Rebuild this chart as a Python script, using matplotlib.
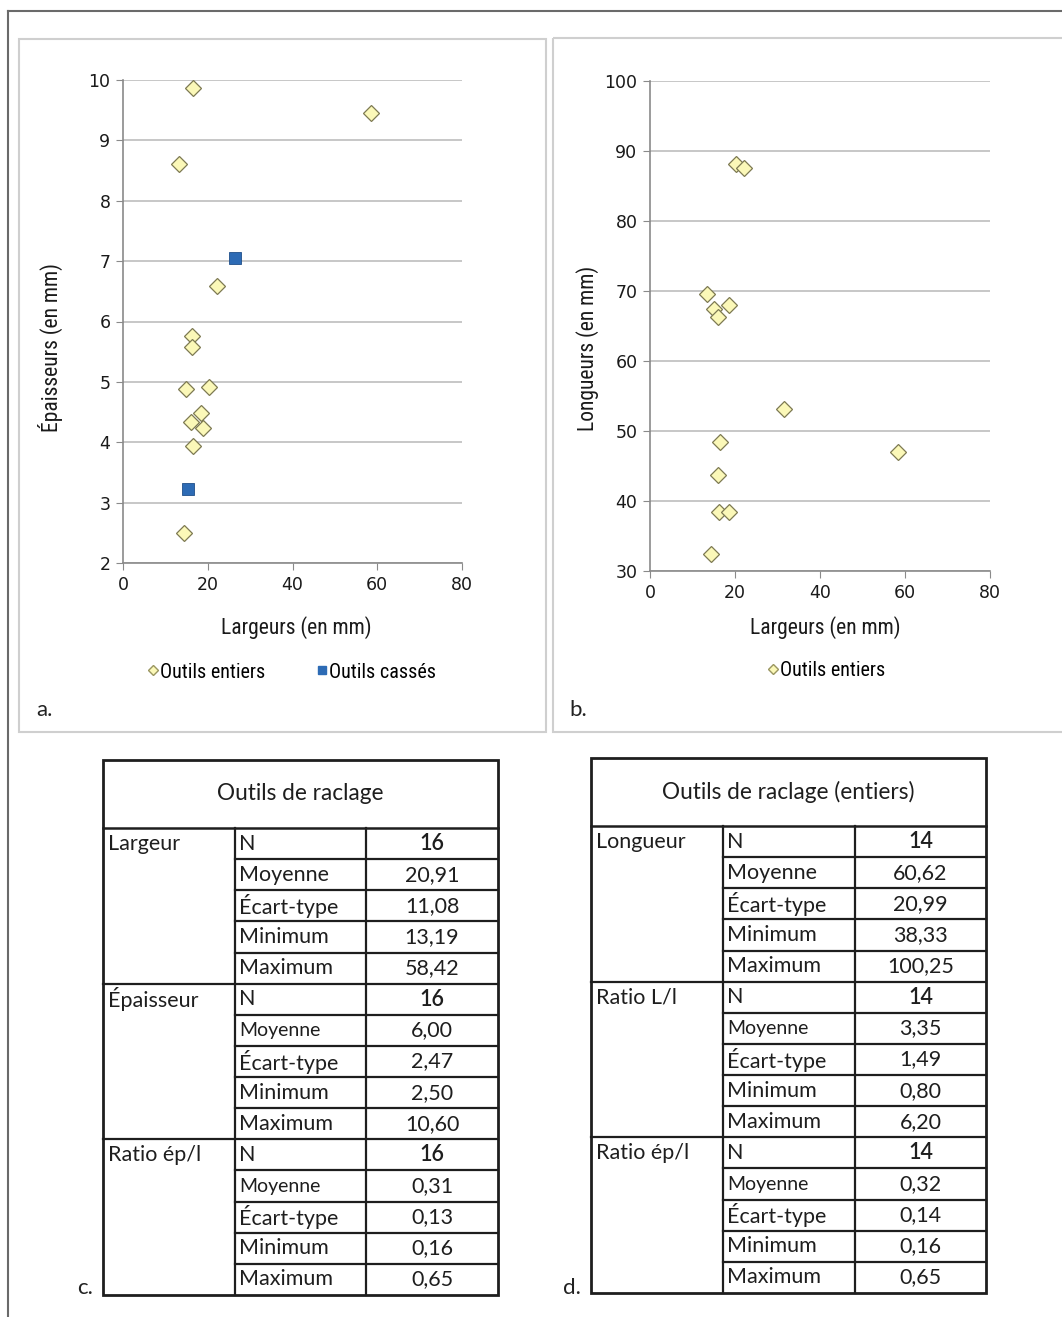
import matplotlib.pyplot as plt
from matplotlib import font_manager
from matplotlib.lines import Line2D
from matplotlib.patches import Rectangle

W, H = 1062, 1317

# --- data --------------------------------------------------------------
# a. épaisseur vs largeur
a_entiers_x = [16.5, 58.6, 13.3, 22.1, 16.2, 16.2, 14.8, 20.4, 18.4, 16.1, 18.8, 16.5, 14.4]
a_entiers_y = [9.86, 9.45, 8.61, 6.59, 5.76, 5.57, 4.89, 4.92, 4.48, 4.33, 4.24, 3.94, 2.49]
a_casses_x = [26.4, 15.3]
a_casses_y = [7.05, 3.22]

# b. longueur vs largeur (outils entiers)
b_entiers_x = [20.3, 22.2, 13.3, 15.0, 16.1, 18.6, 31.5, 16.4, 58.4, 16.0, 16.3, 18.5, 14.3]
b_entiers_y = [88.2, 87.6, 69.6, 67.5, 66.3, 68.0, 53.1, 48.5, 47.0, 43.7, 38.4, 38.4, 32.5]

a_xticks = [0, 20, 40, 60, 80]
a_yticks = [2, 3, 4, 5, 6, 7, 8, 9, 10]
b_xticks = [0, 20, 40, 60, 80]
b_yticks = [30, 40, 50, 60, 70, 80, 90, 100]

stat_names = ["N", "Moyenne", "Écart-type", "Minimum", "Maximum"]

c_title = "Outils de raclage"
c_groups = ["Largeur", "Épaisseur", "Ratio ép/l"]
c_values = [["16", "20,91", "11,08", "13,19", "58,42"],
            ["16", "6,00", "2,47", "2,50", "10,60"],
            ["16", "0,31", "0,13", "0,16", "0,65"]]

d_title = "Outils de raclage (entiers)"
d_groups = ["Longueur", "Ratio L/l", "Ratio ép/l"]
d_values = [["14", "60,62", "20,99", "38,33", "100,25"],
            ["14", "3,35", "1,49", "0,80", "6,20"],
            ["14", "0,32", "0,14", "0,16", "0,65"]]


def pick_font(candidates):
    names = {f.name for f in font_manager.fontManager.ttflist}
    for c in candidates:
        if c in names:
            return c
    return "DejaVu Sans"


narrow = pick_font(["Liberation Sans Narrow", "Roboto Condensed", "Open Sans Condensed", "Roboto"])
tfont = pick_font(["Lato", "Open Sans", "Roboto"])

fig = plt.figure(figsize=(W / 100, H / 100), dpi=100)

# background layer in pixel coordinates (frames, labels, tables)
bg = fig.add_axes([0, 0, 1, 1], zorder=0)
bg.set_xlim(0, W)
bg.set_ylim(H, 0)
bg.axis("off")


def add_px_axes(left, top, right, bottom):
    ax = fig.add_axes([left / W, 1 - bottom / H, (right - left) / W, (bottom - top) / H], zorder=2)
    ax.patch.set_alpha(0)
    return ax


# outer frame + panel boxes
bg.plot([8, W], [11, 11], color="#6a6a6a", lw=1.5)
bg.plot([8, 8], [11, H], color="#6a6a6a", lw=1.5)
bg.add_patch(Rectangle((19, 39), 527, 693, fill=False, ec="#cfcfcf", lw=1.5))
bg.add_patch(Rectangle((553, 38), 520, 694, fill=False, ec="#cfcfcf", lw=1.5))

diamond = dict(ls="none", marker="D", ms=8.5, mfc="#fbf8b8", mec="#7d7a52", mew=0.9)
square = dict(ls="none", marker="s", ms=9, mfc="#2d6bb5", mec="#1f4f8a", mew=0.6)


def style_axes(ax, xticks, yticks):
    ax.set_xlim(xticks[0], xticks[-1])
    ax.set_ylim(yticks[0], yticks[-1])
    ax.set_xticks(xticks)
    ax.set_yticks(yticks)
    ax.grid(axis="y", color="#bdbdbd", lw=1.2)
    ax.set_axisbelow(True)
    for s in ("top", "right"):
        ax.spines[s].set_visible(False)
    for s in ("left", "bottom"):
        ax.spines[s].set_color("#8a8a8a")
        ax.spines[s].set_linewidth(1.2)
    ax.tick_params(direction="out", length=5, color="#8a8a8a", labelsize=12.5,
                   labelcolor="#1a1a1a", pad=4)


# a.
ax_a = add_px_axes(123, 80, 462, 563)
ax_a.plot(a_entiers_x, a_entiers_y, label="Outils entiers", **diamond)
ax_a.plot(a_casses_x, a_casses_y, label="Outils cassés", **square)
style_axes(ax_a, a_xticks, a_yticks)

# b.
ax_b = add_px_axes(650, 81, 990, 571)
ax_b.plot(b_entiers_x, b_entiers_y, label="Outils entiers", **diamond)
style_axes(ax_b, b_xticks, b_yticks)

lab = dict(family=narrow, fontsize=15.5, color="#1a1a1a", ha="center", va="center")
bg.text(50, 347, "Épaisseurs (en mm)", rotation=90, **lab)
bg.text(296, 628, "Largeurs (en mm)", **lab)
bg.text(588, 348, "Longueurs (en mm)", rotation=90, **lab)
bg.text(825, 628, "Largeurs (en mm)", **lab)

leg_kw = dict(frameon=False, handlelength=0.5, handletextpad=0.1, columnspacing=2.6,
              prop=dict(family=narrow, size=14.5), loc="center")
ha_, la_ = ax_a.get_legend_handles_labels()
leg_a = fig.legend([Line2D([], [], ls="none", marker="D", ms=5, mfc="#fbf8b8", mec="#9a9660"),
                    Line2D([], [], ls="none", marker="s", ms=6, mfc="#2d6bb5", mec="#2d6bb5")],
                   la_, ncol=2, bbox_to_anchor=(292 / W, 1 - 672 / H), **leg_kw)
hb_, lb_ = ax_b.get_legend_handles_labels()
leg_b = fig.legend([Line2D([], [], ls="none", marker="D", ms=5, mfc="#fbf8b8", mec="#9a9660")],
                   lb_, ncol=1, bbox_to_anchor=(827 / W, 1 - 671 / H), **leg_kw)

panel = dict(family=tfont, fontsize=16, color="#222222", ha="left", va="center")
bg.text(36, 710, "a.", **panel)
bg.text(569, 710, "b.", **panel)
bg.text(77, 1288, "c.", **panel)
bg.text(563, 1288, "d.", **panel)


def draw_table(left, top, right, bottom, head_bottom, col1, col2, title, groups, values):
    n_stat = len(stat_names)
    n_rows = len(groups) * n_stat
    row_h = (bottom - head_bottom) / n_rows
    lc = "#1e1e1e"
    bg.add_patch(Rectangle((left, top), right - left, bottom - top, fill=False, ec=lc, lw=2.0))
    bg.plot([left, right], [head_bottom, head_bottom], color=lc, lw=1.8)
    bg.plot([col1, col1], [head_bottom, bottom], color=lc, lw=1.6)
    bg.plot([col2, col2], [head_bottom, bottom], color=lc, lw=1.6)
    for i in range(1, n_rows):
        y = head_bottom + i * row_h
        x0 = left if i % n_stat == 0 else col1
        bg.plot([x0, right], [y, y], color=lc, lw=1.6)
    txt = dict(family=tfont, color="#1e1e1e", va="center")
    bg.text((left + right) / 2, (top + head_bottom) / 2, title, ha="center", fontsize=16.3, **txt)
    for g, (gname, gvals) in enumerate(zip(groups, values)):
        y0 = head_bottom + g * n_stat * row_h + row_h / 2
        bg.text(left + 5, y0, gname, ha="left", fontsize=15.5, **txt)
        for k, (sname, v) in enumerate(zip(stat_names, gvals)):
            yc = y0 + k * row_h
            small = (g > 0 and sname == "Moyenne")
            bg.text(col1 + 4, yc, sname, ha="left", fontsize=14 if small else 15.5, **txt)
            bg.text((col2 + right) / 2, yc, v, ha="center", fontsize=15.5,
                    fontweight="semibold" if k == 0 else "normal", **txt)


draw_table(103, 760, 498, 1295, 828, 235, 366, c_title, c_groups, c_values)
draw_table(591, 758, 986, 1293, 826, 723, 855, d_title, d_groups, d_values)

fig.savefig("out.png", dpi=100, facecolor="white")
